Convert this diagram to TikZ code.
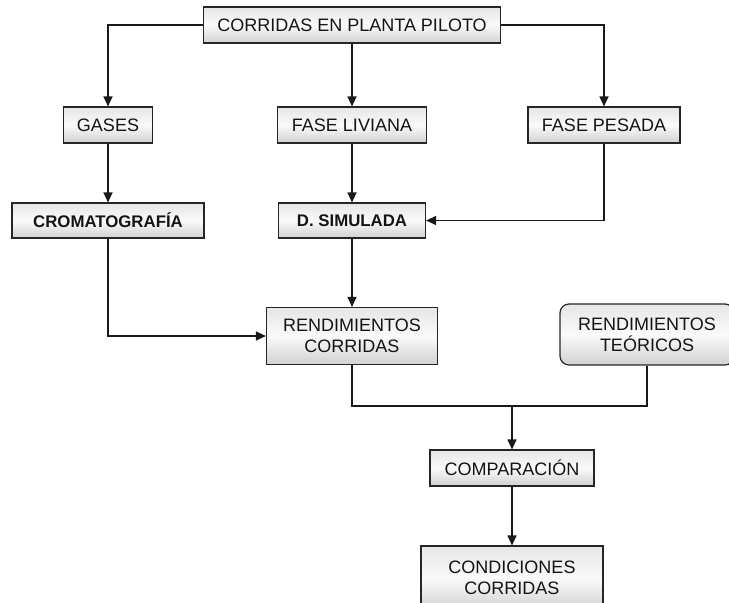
\documentclass[tikz,border=0pt]{standalone}
\usepackage{fontspec}
\setmainfont{Liberation Sans}
\usetikzlibrary{arrows.meta,calc}

\tikzset{
  box/.style={draw=black!85, line width=1.2pt, rectangle,
    top color=black!10, bottom color=black!18, middle color=black!2,
    text=black!92, align=center, inner sep=0pt,
    font=\fontsize{18}{21}\selectfont},
  boldbox/.style={box, font=\fontsize{16.8}{20}\selectfont\bfseries},
  roundbox/.style={box, rounded corners=9pt},
  link/.style={draw=black!90, line width=1.2pt},
  arrowlink/.style={link, -{Triangle[length=10pt,width=9pt]}}
}

\begin{document}
\begin{tikzpicture}[x={(1pt,0)}, y={(0,-1pt)}]
  \useasboundingbox (0,0) rectangle (729,603);
  \fill[white] (0,0) rectangle (729,603);
  \clip (0,0) rectangle (729,603);

  % boxes
  \node[box, minimum width=297pt, minimum height=36pt] (top) at (352,25) {CORRIDAS EN PLANTA PILOTO};
  \node[box, minimum width=89pt, minimum height=36pt] (gases) at (108,125) {GASES};
  \node[box, minimum width=149pt, minimum height=36pt] (liv) at (352,125) {FASE LIVIANA};
  \node[box, minimum width=152pt, minimum height=36pt] (pes) at (604,125) {FASE PESADA};
  \node[boldbox, minimum width=192pt, minimum height=35pt] (crom) at (108,220.5) {CROMATOGRAF\'IA};
  \node[boldbox, minimum width=147pt, minimum height=35pt] (dsim) at (352,220.5) {D. SIMULADA};
  \node[box, minimum width=171pt, minimum height=57pt] (rc) at (352,336) {RENDIMIENTOS\\CORRIDAS};
  \node[roundbox, minimum width=174pt, minimum height=61pt] (rt) at (647,334.5) {RENDIMIENTOS\\TE\'ORICOS};
  \node[box, minimum width=164pt, minimum height=36pt] (comp) at (512,468) {COMPARACI\'ON};
  \node[box, minimum width=182pt, minimum height=64pt] (cond) at (512,578) {CONDICIONES\\CORRIDAS};

  % junction above the comparison box
  \coordinate (join) at (512,406);

  % connectors
  \draw[arrowlink] (top.west) -| (gases.north);
  \draw[arrowlink] (top.south) -- (liv.north);
  \draw[arrowlink] (top.east) -| (pes.north);
  \draw[arrowlink] (gases.south) -- (crom.north);
  \draw[arrowlink] (liv.south) -- (dsim.north);
  \draw[arrowlink] (pes.south) |- (dsim.east);
  \draw[arrowlink] (crom.south) |- (rc.west);
  \draw[arrowlink] (dsim.south) -- (rc.north);
  \draw[link] (rc.south) |- (join) -| (rt.south);
  \draw[arrowlink] (join) -- (comp.north);
  \draw[arrowlink] (comp.south) -- (cond.north);
\end{tikzpicture}
\end{document}
